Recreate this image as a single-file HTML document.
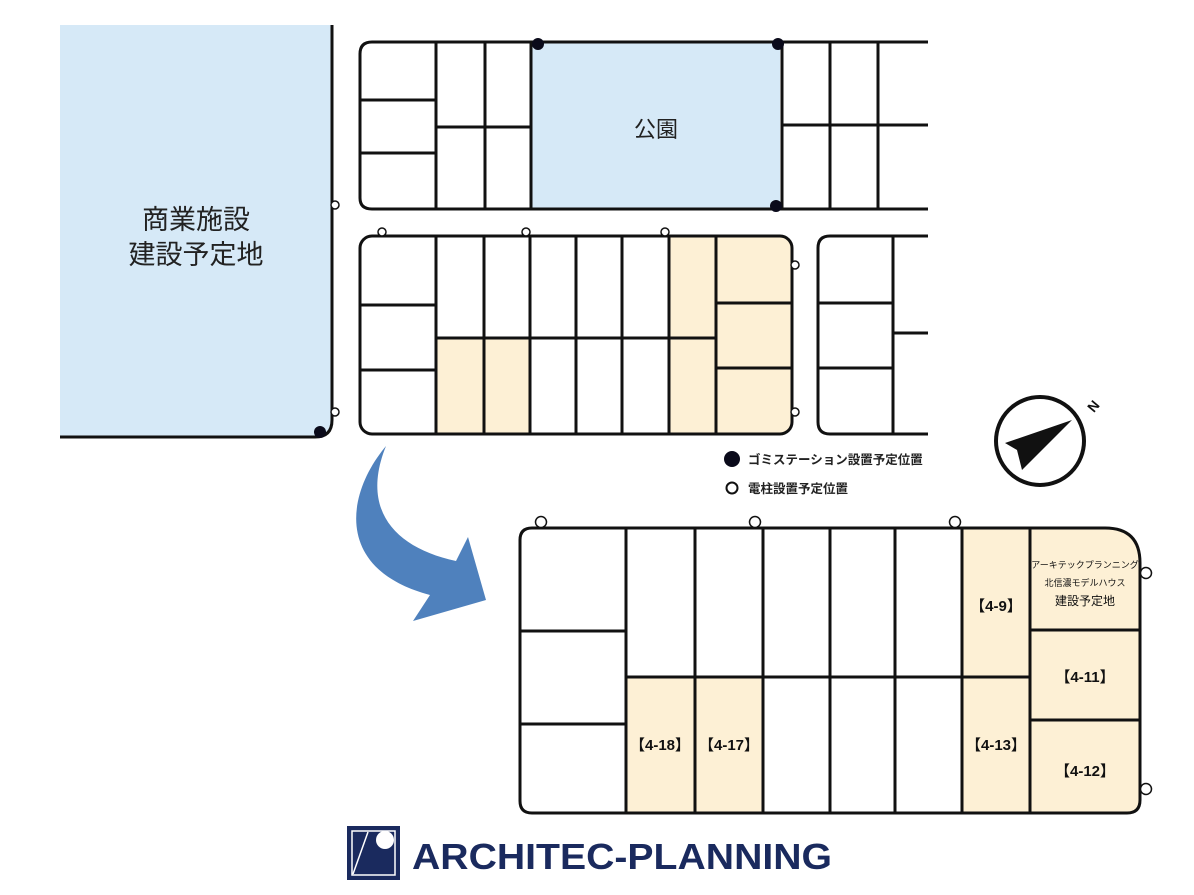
<!DOCTYPE html>
<html><head><meta charset="utf-8"><style>
html,body{margin:0;padding:0;background:#fff;width:1194px;height:895px;overflow:hidden}
svg{display:block}
text{font-family:"Liberation Sans","Noto Sans CJK JP",sans-serif}
</style></head><body>
<svg width="1194" height="895" viewBox="0 0 1194 895" xmlns="http://www.w3.org/2000/svg">
<g stroke="#111" stroke-width="3" fill="none">
<path d="M60 25 H332 V420 Q332 437 315 437 H60 Z" fill="#d6e9f7" stroke="none"/>
<path d="M332 25 V420 Q332 437 315 437 H60"/>
<rect x="531" y="42" width="249" height="166" fill="#d6e9f7" stroke="none"/>
<path d="M928 42 H372 Q360 42 360 54 V198 Q360 209 372 209 H928"/>
<path d="M436 42V209 M485 42V209 M531 42V209 M782 42V209 M830 42V209 M878 42V209"/>
<path d="M360 100H436 M360 153H436 M436 127H531 M782 125H928"/>
<rect x="436" y="338" width="94" height="96" fill="#fdf0d5" stroke="none"/>
<rect x="669" y="236" width="123" height="198" rx="12" fill="#fdf0d5" stroke="none"/>
<rect x="669" y="236" width="30" height="198" fill="#fdf0d5" stroke="none"/>
<rect x="360" y="236" width="432" height="198" rx="12"/>
<path d="M436 236V434 M484 236V434 M530 236V434 M576 236V434 M622 236V434 M669 236V434 M716 236V434"/>
<path d="M360 305H436 M360 370H436 M436 338H716 M716 303H792 M716 368H792"/>
<path d="M928 236 H830 Q818 236 818 248 V422 Q818 434 830 434 H928"/>
<path d="M893 236V434 M818 303H893 M818 368H893 M893 333H928"/>
<path d="M962 528 H1105 Q1140 528 1140 563 V800 Q1140 813 1127 813 H962 Z" fill="#fdf0d5" stroke="none"/>
<rect x="626" y="677" width="137" height="136" fill="#fdf0d5" stroke="none"/>
<path d="M520 540 Q520 528 532 528 H1105 Q1140 528 1140 563 V800 Q1140 813 1127 813 H532 Q520 813 520 801 Z"/>
<path d="M626 528V813 M695 528V813 M763 528V813 M830 528V813 M895 528V813 M962 528V813 M1030 528V813"/>
<path d="M626 677H1030 M520 631H626 M520 724H626 M1030 630H1140 M1030 720H1140"/>
</g>
<g fill="#0a0a1a"><circle cx="538" cy="44" r="6"/><circle cx="778" cy="44" r="6"/><circle cx="776" cy="206" r="6"/><circle cx="320" cy="432" r="6"/><circle cx="732" cy="459" r="8"/></g>
<g fill="#fff" stroke="#111" stroke-width="1.5">
<circle cx="335" cy="205" r="4"/><circle cx="335" cy="412" r="4"/><circle cx="382" cy="232" r="4"/><circle cx="526" cy="232" r="4"/><circle cx="665" cy="232" r="4"/><circle cx="795" cy="265" r="4"/><circle cx="795" cy="412" r="4"/>
<circle cx="732" cy="488" r="5.5" stroke-width="2"/>
<circle cx="541" cy="522" r="5.5"/><circle cx="755" cy="522" r="5.5"/><circle cx="955" cy="522" r="5.5"/><circle cx="1146" cy="573" r="5.5"/><circle cx="1146" cy="789" r="5.5"/>
</g>
<text x="196" y="229" font-size="27" text-anchor="middle" fill="#222">商業施設</text>
<text x="196" y="264" font-size="27" text-anchor="middle" fill="#222">建設予定地</text>
<text x="656" y="137" font-size="22" text-anchor="middle" fill="#222">公園</text>
<text x="748" y="464" font-size="12.5" font-weight="bold" fill="#222">ゴミステーション設置予定位置</text>
<text x="748" y="493" font-size="12.5" font-weight="bold" fill="#222">電柱設置予定位置</text>
<circle cx="1040" cy="441" r="44" fill="none" stroke="#111" stroke-width="4"/>
<path d="M1072 420 L1005 443 L1017 450 L1022 470 Z" fill="#111"/>
<text x="1090" y="415" font-size="14" font-weight="bold" fill="#111" transform="rotate(-50 1090 410)">N</text>
<path d="M386 446 C345 495 335 570 430 595 L413 621 L486 600 L468 537 L456 561 C395 548 360 510 386 446 Z" fill="#4f81bd"/>
<g font-size="15" font-weight="bold" fill="#111" text-anchor="middle">
<text x="660" y="750">【4-18】</text><text x="729" y="750">【4-17】</text>
<text x="996" y="611">【4-9】</text><text x="996" y="750">【4-13】</text>
<text x="1085" y="682">【4-11】</text><text x="1085" y="776">【4-12】</text>
</g>
<g text-anchor="middle" fill="#111">
<text x="1085" y="568" font-size="9">アーキテックプランニング</text>
<text x="1085" y="586" font-size="9">北信濃モデルハウス</text>
<text x="1085" y="605" font-size="12">建設予定地</text>
</g>
<rect x="347" y="826" width="53" height="54" fill="#1a2a5e"/>
<rect x="352" y="831" width="43" height="44" fill="none" stroke="#fff" stroke-width="1.5"/>
<circle cx="385" cy="840" r="9" fill="#fff"/>
<path d="M368 832 L353 874" stroke="#fff" stroke-width="1.5"/>
<text x="412" y="869" font-size="36" font-weight="bold" fill="#1a2a5e" textLength="420" lengthAdjust="spacingAndGlyphs">ARCHITEC-PLANNING</text>
</svg>
</body></html>
